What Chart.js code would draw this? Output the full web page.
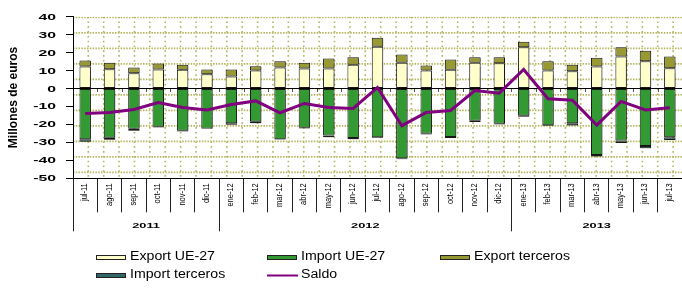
<!DOCTYPE html>
<html><head><meta charset="utf-8">
<script src="https://cdn.jsdelivr.net/npm/chart.js@4/dist/chart.umd.min.js"></script>
<style>html,body{margin:0;padding:0;background:#fff;overflow:hidden}#wrap{width:682px;height:295px;position:relative}</style>
</head><body><div id="wrap"><canvas id="c" width="682" height="295"></canvas></div>
<script>
const categories = ['jul-11','ago-11','sep-11','oct-11','nov-11','dic-11','ene-12','feb-12','mar-12','abr-12','may-12','jun-12','jul-12','ago-12','sep-12','oct-12','nov-12','dic-12','ene-13','feb-13','mar-13','abr-13','may-13','jun-13','jul-13'];
const yearLabels = ['2011','2012','2013'];
const yearSpans = [6,12,7];
const exportUE = [12.2,10.7,8.5,10.6,10.4,8.0,6.7,10.0,11.7,11.1,11.1,13.3,23.3,14.4,10.0,10.4,14.4,14.1,23.0,10.0,9.6,12.2,17.8,15.2,11.3];
const importUE = [-28.3,-27.4,-22.4,-21.3,-23.5,-22.2,-19.3,-18.5,-28.3,-21.9,-26.1,-27.6,-27.2,-38.9,-25.2,-27.0,-18.0,-19.6,-15.2,-20.4,-19.4,-37.0,-28.9,-32.0,-27.2];
const exportTerceros = [3.4,3.7,3.2,3.3,2.9,2.6,3.9,2.4,3.5,3.3,5.6,4.1,5.0,4.5,2.8,5.7,3.0,3.3,3.1,5.2,3.7,5.0,5.2,5.9,6.5];
const importTerceros = [-1.3,-1.1,-1.1,-0.4,-0.4,-0.4,-0.9,-0.9,-0.2,-0.3,-1.1,-0.7,-0.4,-0.5,-0.4,-0.6,-0.7,-0.4,-0.5,-0.5,-1.2,-0.8,-1.5,-1.3,-1.5];
const saldo = [-13.9,-13.3,-11.7,-7.8,-10.6,-11.9,-8.9,-6.9,-13.5,-8.3,-10.6,-11.1,0.6,-20.7,-13.3,-12.2,-1.1,-2.6,10.6,-5.7,-6.5,-20.4,-7.2,-11.9,-10.7];
const yMin = -50, yMax = 40, yStep = 10;
const yTitle = 'Millones de euros';

const FONT = '"Liberation Sans", Arial, sans-serif';

const patternPlugin = {
  id: 'pattern',
  beforeDraw(chart) {
    const {ctx, chartArea: a} = chart;
    ctx.save();
    ctx.beginPath(); ctx.rect(a.left, a.top, a.right - a.left, a.bottom - a.top); ctx.clip();
    ctx.strokeStyle = '#b5b560'; ctx.lineWidth = 1.6;
    ctx.setLineDash([1.5, 1.3]);
    for (let y = a.top + 0.7; y < a.bottom; y += 15.5) {
      ctx.beginPath(); ctx.moveTo(a.left, y); ctx.lineTo(a.right, y); ctx.stroke();
    }
    ctx.setLineDash([1.6, 3.2]);
    for (let x = a.left + 15.3; x < a.right; x += 15.39) {
      ctx.beginPath(); ctx.moveTo(x, a.top); ctx.lineTo(x, a.bottom); ctx.stroke();
    }
    ctx.restore();
  }
};

const shadowPlugin = {
  id: 'barShadow',
  beforeDatasetDraw(chart, args) {
    if (args.meta.type === 'bar') {
      const ctx = chart.ctx; ctx.save();
      ctx.shadowColor = 'rgba(0,0,0,0.3)'; ctx.shadowBlur = 1.5; ctx.shadowOffsetX = 1.5; ctx.shadowOffsetY = 1;
    }
  },
  afterDatasetDraw(chart, args) {
    if (args.meta.type === 'bar') chart.ctx.restore();
  }
};

const legendSlots = [[96, 257], [267, 257], [440, 257], [96, 275], [267, 275]];

const annotPlugin = {
  id: 'annot',
  afterDraw(chart) {
    const {ctx, chartArea: a} = chart;
    const xs = chart.scales.x, ys = chart.scales.y;
    ctx.save();
    ctx.fillStyle = '#000';
    // y tick labels
    ctx.font = 'bold 9px ' + FONT; ctx.textAlign = 'right'; ctx.textBaseline = 'middle';
    ys.ticks.forEach(t => {
      const py = ys.getPixelForValue(t.value);
      ctx.save(); ctx.translate(56, py); ctx.scale(1.75, 1); ctx.fillText(String(t.value), 0, 0.5); ctx.restore();
    });
    // category labels
    ctx.font = '9px ' + FONT; ctx.textAlign = 'right'; ctx.textBaseline = 'middle';
    categories.forEach((c, i) => {
      const px = xs.getPixelForValue(i);
      ctx.save(); ctx.translate(px - 0.5, a.bottom + 5); ctx.rotate(-Math.PI / 2); ctx.scale(0.83, 1); ctx.fillText(c, 0, 0); ctx.restore();
    });
    const half = (xs.getPixelForValue(1) - xs.getPixelForValue(0)) / 2;
    // small ticks on the zero line
    const y0 = Math.round(ys.getPixelForValue(0));
    ctx.strokeStyle = '#555'; ctx.lineWidth = 1;
    for (let i = 1; i < categories.length; i++) {
      const bx = Math.round(xs.getPixelForValue(i) - half) + 0.5;
      ctx.beginPath(); ctx.moveTo(bx, y0); ctx.lineTo(bx, y0 + 3); ctx.stroke();
    }
    // year groups
    let start = 0;
    yearLabels.forEach((lab, g) => {
      const end = start + yearSpans[g] - 1;
      const x0 = xs.getPixelForValue(start) - half, x1 = xs.getPixelForValue(end) + half;
      const sx = Math.round(x0) + 0.5;
      ctx.strokeStyle = '#222'; ctx.lineWidth = 1;
      ctx.beginPath(); ctx.moveTo(sx, a.bottom); ctx.lineTo(sx, a.bottom + 53); ctx.stroke();
      ctx.save(); ctx.translate((x0 + x1) / 2, a.bottom + 47); ctx.scale(1.6, 1);
      ctx.font = 'bold 8px ' + FONT; ctx.textAlign = 'center'; ctx.textBaseline = 'middle';
      ctx.fillText(lab, 0, 0); ctx.restore();
      start += yearSpans[g];
    });
    // legend
    chart.data.datasets.forEach((ds, i) => {
      const [lx, ly] = legendSlots[i];
      if (ds.type === 'line') {
        ctx.strokeStyle = ds.borderColor; ctx.lineWidth = 2;
        ctx.beginPath(); ctx.moveTo(lx, ly + 0.5); ctx.lineTo(lx + 31, ly + 0.5); ctx.stroke();
      } else {
        ctx.fillStyle = ds.backgroundColor; ctx.fillRect(lx, ly - 2, 30, 5);
        ctx.strokeStyle = '#222'; ctx.lineWidth = 1; ctx.strokeRect(lx + 0.5, ly - 1.5, 29, 4);
      }
      ctx.fillStyle = '#000'; ctx.font = '12px ' + FONT; ctx.textAlign = 'left'; ctx.textBaseline = 'middle';
      ctx.save(); ctx.translate(lx + 34, ly); ctx.scale(1.18, 1); ctx.fillText(ds.label, 0, 0); ctx.restore();
    });
    ctx.restore();
  }
};

const barCommon = {borderColor: '#1a1a1a', borderWidth: 1, borderSkipped: false, barPercentage: 0.47, categoryPercentage: 1.0, order: 1, stack: 's'};

new Chart(document.getElementById('c'), {
  type: 'bar',
  data: {
    labels: categories,
    datasets: [
      Object.assign({label: 'Export UE-27', data: exportUE, backgroundColor: '#ffffcc'}, barCommon),
      Object.assign({label: 'Import UE-27', data: importUE, backgroundColor: '#339933'}, barCommon),
      Object.assign({label: 'Export terceros', data: exportTerceros, backgroundColor: '#999933'}, barCommon),
      Object.assign({label: 'Import terceros', data: importTerceros, backgroundColor: '#336666'}, barCommon),
      {type: 'line', label: 'Saldo', data: saldo, borderColor: '#800080', backgroundColor: '#800080', borderWidth: 3, pointRadius: 0, tension: 0, fill: false, order: 0, stack: 'saldo'}
    ]
  },
  options: {
    responsive: false, animation: false, devicePixelRatio: 1,
    layout: {padding: {top: 16.7, right: 0, bottom: 0, left: 0}},
    plugins: {legend: {display: false}, tooltip: {enabled: false}},
    scales: {
      x: {
        stacked: true, offset: true,
        ticks: {display: false},
        grid: {drawOnChartArea: false, offset: true, tickLength: 34, tickColor: '#222', color: '#222'},
        border: {display: true, color: '#000', width: 1},
        afterFit(s) { s.height = 116.7; }
      },
      y: {
        stacked: true, min: yMin, max: yMax,
        ticks: {display: false, stepSize: yStep},
        grid: {color: c => (c.tick && c.tick.value === 0) ? '#000' : 'rgba(0,0,0,0)', tickColor: '#000', tickLength: 7, drawTicks: true, lineWidth: 1},
        border: {display: true, color: '#000', width: 1},
        title: {display: true, text: yTitle, color: '#000', font: {family: FONT, size: 12, weight: 'bold'}, padding: {top: 6, bottom: 0}},
        afterFit(s) { s.width = 73; }
      }
    }
  },
  plugins: [patternPlugin, shadowPlugin, annotPlugin]
});
</script>
</body></html>
